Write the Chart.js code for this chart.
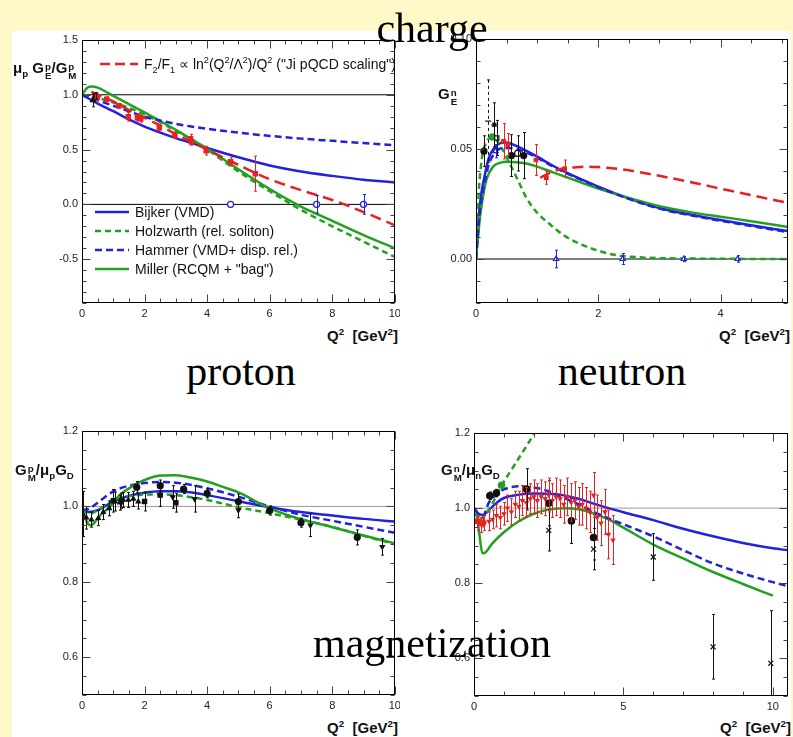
<!DOCTYPE html>
<html><head><meta charset="utf-8">
<script src="https://cdn.jsdelivr.net/npm/chart.js@4.4.0/dist/chart.umd.min.js"></script>
<style>
html,body{margin:0;padding:0;width:793px;height:737px;overflow:hidden;background:#fff8c8;font-family:"Liberation Sans",Arial,sans-serif;}
#white{position:absolute;left:12px;top:31px;width:779px;height:706px;background:#fff;}
canvas{position:absolute;}
.big{position:absolute;font-family:"Liberation Serif","Times New Roman",serif;font-size:42px;line-height:1;color:#000;white-space:nowrap;z-index:5;}
.lab{position:absolute;font-weight:bold;font-size:15px;line-height:1;white-space:nowrap;color:#111;z-index:4;}
.ss{display:inline-flex;flex-direction:column;font-size:65%;line-height:1;vertical-align:0.35em;margin-left:1px;}
sub,sup{font-size:65%;line-height:0;}
.lg{position:absolute;display:flex;align-items:center;height:16px;font-size:14px;white-space:nowrap;color:#111;z-index:4;}
.lg svg{margin-right:6px;}
</style></head>
<body>
<div id="white"></div>
<canvas id="c1"></canvas><canvas id="c2"></canvas><canvas id="c3"></canvas><canvas id="c4"></canvas>

<div class="big" style="left:432px;top:7px;transform:translateX(-50%)">charge</div>
<div class="big" style="left:241px;top:350px;transform:translateX(-50%)">proton</div>
<div class="big" style="left:622px;top:350px;transform:translateX(-50%)">neutron</div>
<div class="big" style="left:432px;top:622px;transform:translateX(-50%)">magnetization</div>

<div class="lab" style="left:13px;top:60px">μ<sub>p</sub> G<span class="ss"><span>p</span><span>E</span></span>/G<span class="ss"><span>p</span><span>M</span></span></div>
<div class="lab" style="right:395px;top:328px">Q<sup>2</sup>&nbsp; [GeV<sup>2</sup>]</div>
<div class="lab" style="left:438px;top:86px">G<span class="ss"><span>n</span><span>E</span></span></div>
<div class="lab" style="right:3px;top:328px">Q<sup>2</sup>&nbsp; [GeV<sup>2</sup>]</div>
<div class="lab" style="left:15px;top:462px">G<span class="ss"><span>p</span><span>M</span></span>/μ<sub>p</sub>G<sub>D</sub></div>
<div class="lab" style="right:395px;top:720px">Q<sup>2</sup>&nbsp; [GeV<sup>2</sup>]</div>
<div class="lab" style="left:441px;top:462px">G<span class="ss"><span>n</span><span>M</span></span>/μ<sub>n</sub>G<sub>D</sub></div>
<div class="lab" style="right:2px;top:720px">Q<sup>2</sup>&nbsp; [GeV<sup>2</sup>]</div>

<div class="lg" style="left:100px;top:56px"><svg width="38" height="10"><line x1="0" y1="5" x2="38" y2="5" stroke="#e82020" stroke-width="2.5" stroke-dasharray="10,5"/></svg><span>F<sub>2</sub>/F<sub>1</sub> ∝ ln<sup>2</sup>(Q<sup>2</sup>/Λ<sup>2</sup>)/Q<sup>2</sup> ("Ji pQCD scaling")</span></div>
<div class="lg" style="left:95px;top:204px"><svg width="34" height="10"><line x1="0" y1="5" x2="34" y2="5" stroke="#2222dd" stroke-width="2.5"/></svg><span>Bijker (VMD)</span></div>
<div class="lg" style="left:95px;top:223px"><svg width="34" height="10"><line x1="0" y1="5" x2="34" y2="5" stroke="#22a022" stroke-width="2.5" stroke-dasharray="6,4"/></svg><span>Holzwarth (rel. soliton)</span></div>
<div class="lg" style="left:95px;top:242px"><svg width="34" height="10"><line x1="0" y1="5" x2="34" y2="5" stroke="#2222dd" stroke-width="2.5" stroke-dasharray="7,4"/></svg><span>Hammer (VMD+ disp. rel.)</span></div>
<div class="lg" style="left:95px;top:261px"><svg width="34" height="10"><line x1="0" y1="5" x2="34" y2="5" stroke="#22a022" stroke-width="2.5"/></svg><span>Miller (RCQM + "bag")</span></div>

<script>
// ================= DATA =================
// ---- Panel 1: proton charge, mu_p GEp/GMp vs Q^2 ----
const p1XTicks = [0, 2, 4, 6, 8, 10];
const p1YTicks = [-0.5, 0.0, 0.5, 1.0, 1.5];
const p1Q = [0, 0.5, 1, 1.5, 2, 2.5, 3, 3.5, 4, 5, 6, 7, 8, 9, 10];
const p1Bijker = [1.0, 0.92, 0.85, 0.775, 0.71, 0.655, 0.605, 0.56, 0.515, 0.43, 0.355, 0.30, 0.26, 0.225, 0.20];
const p1Holzwarth = [1.0, 0.97, 0.93, 0.88, 0.82, 0.75, 0.67, 0.59, 0.50, 0.30, 0.12, -0.05, -0.20, -0.34, -0.48];
const p1Hammer = [1.0, 0.95, 0.90, 0.85, 0.80, 0.765, 0.735, 0.71, 0.69, 0.655, 0.625, 0.60, 0.58, 0.56, 0.54];
const p1MillerQ = [0, 0.15, 0.3, 0.5, 0.75, 1, 1.5, 2, 2.5, 3, 3.5, 4, 5, 6, 7, 8, 9, 10];
const p1Miller = [1.0, 1.06, 1.075, 1.065, 1.03, 0.99, 0.915, 0.84, 0.76, 0.68, 0.595, 0.51, 0.32, 0.14, -0.02, -0.15, -0.28, -0.40];
const p1JiQ = [0.3, 0.5, 1, 1.5, 2, 2.5, 3, 3.5, 4, 5, 6, 7, 8, 9, 10];
const p1Ji = [1.03, 1.0, 0.94, 0.86, 0.79, 0.72, 0.64, 0.57, 0.50, 0.36, 0.23, 0.13, 0.04, -0.07, -0.19];
const p1RedQ = [0.49, 0.79, 1.18, 1.48, 1.77, 1.88, 2.47, 2.97, 3.47, 3.50, 3.97, 4.75, 5.54];
const p1Red = [0.98, 0.96, 0.90, 0.80, 0.79, 0.78, 0.70, 0.63, 0.60, 0.57, 0.49, 0.39, 0.28];
const p1RedErr = [0.03, 0.02, 0.02, 0.04, 0.03, 0.03, 0.03, 0.03, 0.04, 0.03, 0.04, 0.04, 0.16];
const p1BlackQ = [0.35, 0.45];
const p1Black = [0.95, 0.99];
const p1BlackErr = [0.06, 0.03];
const p1ProjQ = [4.75, 7.5, 9.0];
const p1Proj = [0, 0, 0];
const p1ProjErr = [0, 0.08, 0.09];

// ---- Panel 2: neutron charge, GEn vs Q^2 ----
const p2XTicks = [0, 2, 4];
const p2YTicks = [0.0, 0.05, 0.10];
const p2Q = [0, 0.03, 0.065, 0.1, 0.15, 0.21, 0.3, 0.4, 0.5, 0.65, 0.8, 1.0, 1.25, 1.5, 2, 2.5, 3, 3.5, 4, 4.5, 5.1];
const p2Bijker = [0, 0.013, 0.025, 0.032, 0.039, 0.046, 0.0505, 0.0527, 0.053, 0.0515, 0.0495, 0.0465, 0.0425, 0.039, 0.0329, 0.0275, 0.0232, 0.0202, 0.0177, 0.0153, 0.0127];
const p2Hammer = [0, 0.011, 0.022, 0.029, 0.036, 0.043, 0.048, 0.0502, 0.0505, 0.050, 0.0487, 0.046, 0.0422, 0.0387, 0.0327, 0.0273, 0.0229, 0.0199, 0.0174, 0.015, 0.0122];
const p2MillerQ = [0, 0.03, 0.065, 0.1, 0.17, 0.28, 0.4, 0.5, 0.65, 0.8, 1.0, 1.25, 1.5, 2, 2.5, 3, 3.5, 4, 4.5, 5.1];
const p2Miller = [0, 0.009, 0.019, 0.026, 0.036, 0.042, 0.0438, 0.0442, 0.044, 0.0435, 0.042, 0.0395, 0.037, 0.032, 0.0277, 0.024, 0.0213, 0.0192, 0.0172, 0.0145];
const p2HolzQ = [0, 0.04, 0.08, 0.11, 0.15, 0.2, 0.28, 0.35, 0.45, 0.55, 0.7, 0.82, 1.0, 1.2, 1.45, 1.74, 2.0, 2.28, 2.6, 3.0, 3.5, 4, 5.1];
const p2Holz = [0, 0.028, 0.042, 0.048, 0.052, 0.0545, 0.0555, 0.0535, 0.049, 0.0435, 0.035, 0.028, 0.021, 0.016, 0.0105, 0.0064, 0.0038, 0.0018, 0.0009, 0.0004, 0.0002, 0.0001, 0];
const p2JiQ = [1.05, 1.2, 1.4, 1.6, 1.8, 2.0, 2.5, 3.0, 3.5, 4.0, 4.5, 5.1];
const p2Ji = [0.037, 0.039, 0.041, 0.0416, 0.042, 0.0418, 0.0403, 0.0378, 0.035, 0.032, 0.029, 0.0255];
const p2BlackQ = [0.13, 0.58, 0.78];
const p2Black = [0.049, 0.047, 0.047];
const p2BlackErr = [0.007, 0.0095, 0.0105];
const p2OpenCircQ = [0.68];
const p2OpenCirc = [0.048];
const p2OpenCircErr = [0.008];
const p2OpenSqQ = [0.34];
const p2OpenSq = [0.055];
const p2OpenSqErr = [0.008];
const p2StarQ = [0.30];
const p2Star = [0.061];
const p2StarErr = [0.010];
const p2GreenQ = [0.27];
const p2Green = [0.0555];
const p2RedQ = [0.45, 0.52, 0.98, 1.15, 1.45];
const p2Red = [0.0535, 0.052, 0.045, 0.037, 0.041];
const p2RedErr = [0.008, 0.005, 0.007, 0.003, 0.004];
const p2BlueQ = [0.32];
const p2Blue = [0.049];
const p2BlueErr = [0.003];
const p2ProjQ = [1.31, 2.4, 3.4, 4.28];
const p2Proj = [0, 0, 0, 0];
const p2ProjErr = [0.004, 0.0025, 0.0012, 0.0015];
const p2DashQ = [0.2];
const p2Dash = [0.0627];
const p2DashErr = [0.0187];

// ---- Panel 3: proton magnetization, GMp/(mu_p GD) ----
const p3XTicks = [0, 2, 4, 6, 8, 10];
const p3YTicks = [0.6, 0.8, 1.0, 1.2];
const p3Q = [0, 0.25, 0.5, 1, 1.5, 2, 2.5, 3, 3.5, 4, 5, 6, 7, 8, 9, 10];
const p3Bijker = [0.99, 0.985, 0.99, 1.013, 1.028, 1.036, 1.04, 1.04, 1.037, 1.03, 1.014, 0.998, 0.985, 0.976, 0.967, 0.96];
const p3Hammer = [0.99, 0.995, 1.01, 1.04, 1.055, 1.062, 1.065, 1.063, 1.057, 1.048, 1.026, 1.0, 0.978, 0.962, 0.946, 0.93];
const p3MillerQ = [0, 0.1, 0.2, 0.3, 0.45, 0.6, 0.9, 1.2, 1.6, 2, 2.5, 3, 3.5, 4, 4.5, 5, 6, 7, 8, 9, 10];
const p3Miller = [1.0, 0.97, 0.953, 0.95, 0.962, 0.978, 1.0, 1.03, 1.053, 1.07, 1.082, 1.083, 1.076, 1.066, 1.052, 1.037, 0.995, 0.966, 0.945, 0.923, 0.902];
const p3HolzQ = [0, 0.25, 0.5, 1, 1.5, 2, 2.5, 3, 4, 5, 6, 7, 8, 9, 10];
const p3Holz = [0.99, 0.98, 0.99, 1.015, 1.027, 1.031, 1.032, 1.03, 1.017, 0.998, 0.982, 0.965, 0.946, 0.922, 0.90];
const p3TriQ = [0.02, 0.14, 0.3, 0.52, 0.68, 0.87, 1.06, 1.22, 1.32, 1.48, 1.64, 1.8];
const p3Tri = [0.98, 0.97, 0.965, 0.969, 0.985, 0.995, 1.013, 1.01, 1.017, 1.017, 1.02, 1.013];
const p3TriErr = [0.06, 0.03, 0.02, 0.02, 0.02, 0.02, 0.025, 0.02, 0.02, 0.02, 0.02, 0.02];
const p3SqQ = [1.0, 1.25, 2.0, 2.5, 3.0];
const p3Sq = [1.015, 1.015, 1.013, 1.03, 1.01];
const p3SqErr = [0.03, 0.02, 0.025, 0.03, 0.025];
const p3CircQ = [1.75, 2.5, 3.25, 4.0, 5.0, 6.0, 7.0, 8.8];
const p3Circ = [1.051, 1.055, 1.046, 1.035, 1.013, 0.989, 0.957, 0.918];
const p3CircErr = [0.015, 0.015, 0.012, 0.012, 0.02, 0.012, 0.012, 0.02];
const p3DownQ = [2.9, 3.6, 5.0, 7.3, 9.6];
const p3Down = [1.025, 1.02, 0.99, 0.95, 0.893];
const p3DownErr = [0.03, 0.035, 0.02, 0.03, 0.022];

// ---- Panel 4: neutron magnetization, GMn/(mu_n GD) ----
const p4XTicks = [0, 5, 10];
const p4YTicks = [0.6, 0.8, 1.0, 1.2];
const p4Q = [0, 0.15, 0.3, 0.5, 0.8, 1.0, 1.5, 2, 2.5, 3, 3.5, 4, 4.5, 5, 6, 7, 8, 9, 10, 10.5];
const p4Bijker = [1.0, 0.985, 0.982, 0.995, 1.017, 1.027, 1.036, 1.039, 1.038, 1.034, 1.025, 1.012, 1.0, 0.989, 0.968, 0.945, 0.925, 0.907, 0.893, 0.888];
const p4Hammer = [1.0, 0.985, 0.98, 1.015, 1.04, 1.05, 1.058, 1.055, 1.045, 1.028, 1.01, 0.99, 0.973, 0.957, 0.925, 0.888, 0.853, 0.826, 0.803, 0.792];
const p4MillerQ = [0, 0.08, 0.18, 0.28, 0.38, 0.6, 1.0, 1.5, 2, 2.5, 3, 3.5, 4, 4.5, 5, 6, 7, 8, 9, 10];
const p4Miller = [1.0, 0.99, 0.93, 0.88, 0.882, 0.905, 0.936, 0.965, 0.985, 0.996, 1.0, 0.997, 0.986, 0.97, 0.948, 0.903, 0.866, 0.83, 0.798, 0.767];
const p4HolzQ = [0, 0.2, 0.4, 0.6, 0.92, 1.3, 1.7, 2.03, 2.3];
const p4Holz = [0.99, 0.97, 0.985, 1.01, 1.06, 1.108, 1.158, 1.2, 1.235];
const p4RedQ = [0.15, 0.25, 0.35, 0.5, 0.62, 0.75, 0.88, 1.0, 1.12, 1.25, 1.38, 1.5, 1.62, 1.75, 1.88, 2.0, 2.12, 2.25, 2.38, 2.5, 2.62, 2.75, 2.88, 3.0, 3.12, 3.25, 3.38, 3.5, 3.62, 3.75, 3.88, 4.0, 4.12, 4.25, 4.38, 4.5, 4.65];
const p4Red = [0.96, 0.955, 0.96, 0.965, 0.97, 0.98, 0.975, 0.985, 1.0, 0.99, 1.01, 1.005, 1.02, 1.015, 1.025, 1.03, 1.02, 1.03, 1.025, 1.035, 1.02, 1.03, 1.025, 1.01, 1.03, 1.015, 1.02, 1.005, 1.01, 1.0, 0.99, 1.035, 0.975, 0.96, 0.99, 0.93, 0.915];
const p4RedErr = [0.02, 0.02, 0.02, 0.025, 0.025, 0.03, 0.03, 0.03, 0.035, 0.035, 0.035, 0.04, 0.04, 0.04, 0.04, 0.045, 0.045, 0.045, 0.045, 0.045, 0.045, 0.05, 0.05, 0.05, 0.05, 0.05, 0.05, 0.05, 0.055, 0.055, 0.055, 0.06, 0.06, 0.06, 0.06, 0.065, 0.065];
const p4RedSqQ = [0.12, 0.3];
const p4RedSq = [0.965, 0.962];
const p4RedSqErr = [0.012, 0.012];
const p4BlackQ = [0.53, 0.75, 1.76, 2.5, 3.26, 4.0];
const p4Black = [1.033, 1.04, 1.05, 1.013, 0.966, 0.922];
const p4BlackErr = [0.01, 0.01, 0.055, 0.06, 0.06, 0.06];
const p4GreenQ = [0.92];
const p4Green = [1.061];
const p4XmQ = [2.5, 4.0, 6.0, 8.0, 9.93];
const p4Xm = [0.941, 0.891, 0.87, 0.631, 0.587];
const p4XmErr = [0.055, 0.055, 0.062, 0.086, 0.14];

// ================= STYLE / HELPERS =================
const BLUE = '#2222dd', GREEN = '#22a022', RED = '#e82020', BLACK = '#111';
function pts(xs, ys) { return xs.map((x, i) => ({ x: x, y: ys[i] })); }
function curve(xs, ys, color, dash) {
  return { data: pts(xs, ys), showLine: true, borderColor: color, backgroundColor: color, borderWidth: 2.5,
    borderDash: dash || [], pointRadius: 0, cubicInterpolationMode: 'monotone', clip: 0, order: 5 };
}
function marks(xs, ys, errs, style, color, filled, r, rot, errDash) {
  return { data: pts(xs, ys), errors: errs, errColor: color, errDash: errDash, pointStyle: style, pointRadius: r || 3,
    rotation: rot || 0, borderColor: color, backgroundColor: filled ? color : 'rgba(255,255,255,1)', borderWidth: 1.2,
    showLine: false, order: 1 };
}
function refLine(xs, ys, color) {
  return { data: pts(xs, ys), showLine: true, borderColor: color, borderWidth: 1, pointRadius: 0, order: 10, clip: 0 };
}

const errorBars = {
  id: 'errorBars',
  afterDatasetsDraw(chart) {
    const ctx = chart.ctx, xs = chart.scales.x, ys = chart.scales.y, a = chart.chartArea;
    ctx.save();
    ctx.beginPath(); ctx.rect(a.left, a.top, a.right - a.left, a.bottom - a.top); ctx.clip();
    chart.data.datasets.forEach(ds => {
      if (!ds.errors) return;
      ctx.strokeStyle = ds.errColor; ctx.lineWidth = 1; ctx.setLineDash(ds.errDash || []);
      ds.data.forEach((p, j) => {
        const e = ds.errors[j]; if (!e) return;
        const px = Math.round(xs.getPixelForValue(p.x)) + 0.5;
        const y1 = ys.getPixelForValue(p.y + e), y2 = ys.getPixelForValue(p.y - e);
        ctx.beginPath(); ctx.moveTo(px, y1); ctx.lineTo(px, y2);
        ctx.moveTo(px - 1.5, y1); ctx.lineTo(px + 1.5, y1);
        ctx.moveTo(px - 1.5, y2); ctx.lineTo(px + 1.5, y2);
        ctx.stroke();
      });
    });
    ctx.restore();
  }
};

const rootFrame = {
  id: 'rootFrame',
  afterDraw(chart, args, o) {
    const ctx = chart.ctx, xs = chart.scales.x, ys = chart.scales.y, a = chart.chartArea;
    const L = Math.round(a.left) + 0.5, R = Math.round(a.right) - 0.5, T = Math.round(a.top) + 0.5, B = Math.round(a.bottom) - 0.5;
    ctx.save(); ctx.setLineDash([]);
    ctx.strokeStyle = '#444'; ctx.lineWidth = 1;
    ctx.beginPath();
    const near = (v, m) => Math.abs(v / m - Math.round(v / m)) < 1e-6;
    for (let v = Math.ceil(xs.min / o.xMinor - 1e-9) * o.xMinor; v <= xs.max + 1e-9; v += o.xMinor) {
      const len = near(v, o.xMajor) ? 8 : 4, px = Math.round(xs.getPixelForValue(v)) + 0.5;
      ctx.moveTo(px, B); ctx.lineTo(px, B - len); ctx.moveTo(px, T); ctx.lineTo(px, T + len);
    }
    for (let v = Math.ceil(ys.min / o.yMinor - 1e-9) * o.yMinor; v <= ys.max + 1e-9; v += o.yMinor) {
      const len = near(v, o.yMajor) ? 8 : 4, py = Math.round(ys.getPixelForValue(v)) + 0.5;
      ctx.moveTo(L, py); ctx.lineTo(L + len, py); ctx.moveTo(R, py); ctx.lineTo(R - len, py);
    }
    ctx.stroke();
    ctx.strokeStyle = '#000';
    ctx.strokeRect(L, T, R - L, B - T);
    ctx.restore();
  }
};

function makeChart(id, area, xr, yr, xTicks, yTicks, xDec, yDec, minor, datasets) {
  const cv = document.getElementById(id);
  const W = area.r - area.l + 41 + 2, H = area.b - area.t + 8 + 22;
  cv.width = W; cv.height = H;
  cv.style.left = (area.l - 41) + 'px'; cv.style.top = (area.t - 8) + 'px';
  cv.style.width = W + 'px'; cv.style.height = H + 'px';
  const tickFont = { family: '"Liberation Sans", Arial, sans-serif', size: 11 };
  return new Chart(cv, {
    type: 'scatter',
    data: { datasets: datasets },
    plugins: [errorBars, rootFrame],
    options: {
      responsive: false, animation: false, events: [], devicePixelRatio: 1,
      layout: { padding: { left: 0, right: 2, top: 8, bottom: 0 } },
      plugins: { legend: { display: false }, tooltip: { enabled: false }, rootFrame: minor },
      scales: {
        x: {
          type: 'linear', min: xr[0], max: xr[1],
          grid: { display: false, drawTicks: false }, border: { display: false },
          afterBuildTicks(s) { s.ticks = xTicks.map(v => ({ value: v })); },
          afterFit(s) { s.height = 22; s.paddingLeft = 0; s.paddingRight = 0; },
          ticks: { padding: 4, color: '#222', font: tickFont, maxRotation: 0, autoSkip: false,
            callback: v => Number(v).toFixed(xDec) }
        },
        y: {
          type: 'linear', min: yr[0], max: yr[1],
          grid: { display: false, drawTicks: false }, border: { display: false },
          afterBuildTicks(s) { s.ticks = yTicks.map(v => ({ value: v })); },
          afterFit(s) { s.width = 41; s.paddingTop = 0; s.paddingBottom = 0; },
          ticks: { padding: 4, color: '#222', font: tickFont, autoSkip: false,
            callback: v => Number(v).toFixed(yDec) }
        }
      }
    }
  });
}

// ---- Panel 1 ----
makeChart('c1', { l: 82, t: 40, r: 398, b: 303 }, [0, 10], [-0.9, 1.5], p1XTicks, p1YTicks, 0, 1,
  { xMajor: 2, xMinor: 0.5, yMajor: 0.5, yMinor: 0.1 }, [
    marks(p1RedQ, p1Red, p1RedErr, 'rect', RED, true, 3),
    marks(p1BlackQ, p1Black, p1BlackErr, 'triangle', BLACK, true, 3),
    marks(p1ProjQ, p1Proj, p1ProjErr, 'circle', BLUE, false, 3),
    curve(p1JiQ, p1Ji, RED, [11, 6]),
    curve(p1Q, p1Hammer, BLUE, [7, 4]),
    curve(p1Q, p1Holzwarth, GREEN, [6, 4]),
    curve(p1MillerQ, p1Miller, GREEN),
    curve(p1Q, p1Bijker, BLUE),
    refLine([0, 10], [1, 1], '#000'),
    refLine([0, 10], [0, 0], '#000')
  ]);

// ---- Panel 2 ----
makeChart('c2', { l: 476, t: 39, r: 791, b: 303 }, [0, 5.1], [-0.02, 0.10], p2XTicks, p2YTicks, 0, 2,
  { xMajor: 2, xMinor: 0.5, yMajor: 0.05, yMinor: 0.01 }, [
    marks(p2RedQ, p2Red, p2RedErr, 'rect', RED, true, 2.5),
    marks(p2BlackQ, p2Black, p2BlackErr, 'circle', BLACK, true, 3),
    marks(p2OpenCircQ, p2OpenCirc, p2OpenCircErr, 'circle', BLACK, false, 3),
    marks(p2OpenSqQ, p2OpenSq, p2OpenSqErr, 'rect', BLACK, false, 3),
    marks(p2StarQ, p2Star, p2StarErr, 'star', BLACK, false, 3),
    marks(p2GreenQ, p2Green, [0], 'circle', GREEN, true, 3),
    marks(p2BlueQ, p2Blue, p2BlueErr, 'triangle', BLUE, false, 3),
    marks(p2ProjQ, p2Proj, p2ProjErr, 'triangle', BLUE, false, 3),
    marks(p2DashQ, p2Dash, p2DashErr, 'line', BLACK, false, 0, 0, [3, 3]),
    curve(p2JiQ, p2Ji, RED, [11, 6]),
    curve(p2Q, p2Hammer, BLUE, [7, 4]),
    curve(p2HolzQ, p2Holz, GREEN, [6, 4]),
    curve(p2MillerQ, p2Miller, GREEN),
    curve(p2Q, p2Bijker, BLUE),
    refLine([0, 5.1], [0, 0], '#000')
  ]);

// ---- Panel 3 ----
makeChart('c3', { l: 82, t: 431, r: 398, b: 695 }, [0, 10], [0.5, 1.2], p3XTicks, p3YTicks, 0, 1,
  { xMajor: 2, xMinor: 0.5, yMajor: 0.2, yMinor: 0.05 }, [
    marks(p3TriQ, p3Tri, p3TriErr, 'triangle', BLACK, true, 2.5),
    marks(p3SqQ, p3Sq, p3SqErr, 'rect', BLACK, true, 3),
    marks(p3CircQ, p3Circ, p3CircErr, 'circle', BLACK, true, 3),
    marks(p3DownQ, p3Down, p3DownErr, 'triangle', BLACK, true, 2.5, 180),
    curve(p3MillerQ, p3Miller, GREEN),
    curve(p3Q, p3Hammer, BLUE, [7, 4]),
    curve(p3HolzQ, p3Holz, GREEN, [6, 4]),
    curve(p3Q, p3Bijker, BLUE),
    refLine([0, 10], [1, 1], '#999')
  ]);

// ---- Panel 4 ----
makeChart('c4', { l: 474, t: 433, r: 791, b: 696 }, [0, 10.5], [0.5, 1.2], p4XTicks, p4YTicks, 0, 1,
  { xMajor: 5, xMinor: 1, yMajor: 0.2, yMinor: 0.05 }, [
    marks(p4BlackQ, p4Black, p4BlackErr, 'circle', BLACK, true, 3.2),
    marks(p4GreenQ, p4Green, [0], 'circle', GREEN, true, 3.2),
    marks(p4XmQ, p4Xm, p4XmErr, 'crossRot', BLACK, false, 3.5),
    marks(p4RedSqQ, p4RedSq, p4RedSqErr, 'rect', RED, true, 3),
    marks(p4RedQ, p4Red, p4RedErr, 'triangle', RED, true, 2, 180),
    curve(p4HolzQ, p4Holz, GREEN, [6, 4]),
    curve(p4Q, p4Hammer, BLUE, [7, 4]),
    curve(p4Q, p4Bijker, BLUE),
    curve(p4MillerQ, p4Miller, GREEN),
    refLine([0, 10.5], [1, 1], '#999')
  ]);
</script>
</body></html>
